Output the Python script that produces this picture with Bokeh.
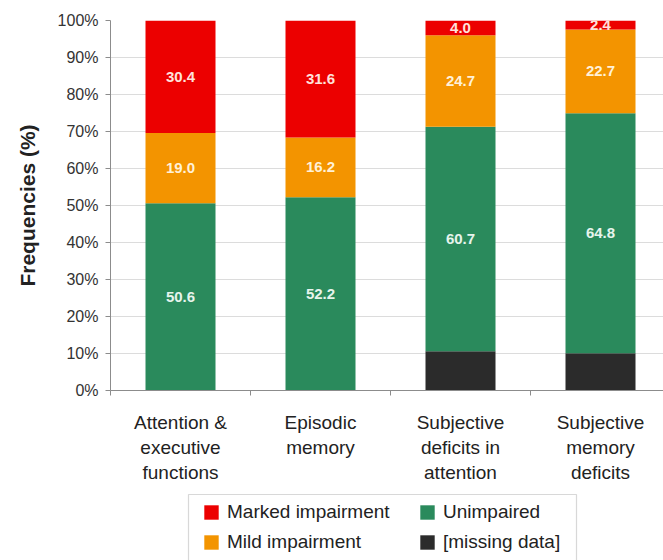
from bokeh.plotting import figure
from bokeh.layouts import column
from bokeh.models import (ColumnDataSource, Range1d, FixedTicker, PrintfTickFormatter,
                          Legend, LegendItem, LabelSet, BoxAnnotation)
from bokeh.core.properties import value
from bokeh.embed import file_html
from bokeh.resources import INLINE

# ---- data ----
categories = ["Attention &\nexecutive\nfunctions", "Episodic\nmemory",
              "Subjective\ndeficits in\nattention", "Subjective\nmemory\ndeficits"]
missing = [0.0, 0.0, 10.6, 10.1]
unimpaired = [50.6, 52.2, 60.7, 64.8]
mild = [19.0, 16.2, 24.7, 22.7]
marked = [30.4, 31.6, 4.0, 2.4]
y_ticks = [0, 10, 20, 30, 40, 50, 60, 70, 80, 90, 100]

series = ["missing", "unimpaired", "mild", "marked"]
colors = ["#2b2b2b", "#2a8a5c", "#f39400", "#ec0000"]
names = ["[missing data]", "Unimpaired", "Mild impairment", "Marked impairment"]

xpos = [i + 0.5 for i in range(len(categories))]
src = ColumnDataSource(dict(x=xpos, missing=missing, unimpaired=unimpaired,
                            mild=mild, marked=marked))

FONT = "Liberation Sans"
W = 663

p = figure(width=W, height=490, output_backend="svg", toolbar_location=None,
           x_range=Range1d(0, 3.95), y_range=Range1d(0, 100),
           min_border_left=110, min_border_right=0, min_border_top=20,
           min_border_bottom=100)
p.outline_line_color = None

renderers = p.vbar_stack(series, x="x", width=0.5, source=src, color=colors,
                         line_color=None)

# segment labels (centered in each segment)
lab_x, lab_y, lab_t, lab_c = [], [], [], []
for i in range(len(categories)):
    base = missing[i]
    for vals, col in ((unimpaired, "#e6f4ec"), (mild, "#fff1d8"), (marked, "#ffe2dc")):
        v = vals[i]
        lab_x.append(xpos[i])
        lab_y.append(base + v / 2)
        lab_t.append(f"{v:.1f}")
        lab_c.append(col)
        base += v
lsrc = ColumnDataSource(dict(x=lab_x, y=lab_y, t=lab_t, c=lab_c))
p.add_layout(LabelSet(x="x", y="y", text="t", source=lsrc, text_color="c",
                      text_font=value(FONT), text_font_size="15px",
                      text_font_style="bold",
                      text_align="center", text_baseline="middle"))

# y axis
p.yaxis.ticker = FixedTicker(ticks=y_ticks)
p.yaxis.formatter = PrintfTickFormatter(format="%d%%")
p.yaxis.axis_label = "Frequencies (%)"
p.yaxis.axis_label_text_font = FONT
p.yaxis.axis_label_text_font_size = "21px"
p.yaxis.axis_label_text_font_style = "bold"
p.yaxis.axis_label_text_color = "#222222"
p.yaxis.axis_label_standoff = 16
p.yaxis.major_label_text_font = FONT
p.yaxis.major_label_text_font_size = "16px"
p.yaxis.major_label_text_color = "#333333"
p.yaxis.major_label_standoff = 7
p.yaxis.axis_line_color = "#8c8c8c"
p.yaxis.major_tick_line_color = "#8c8c8c"
p.yaxis.major_tick_out = 5
p.yaxis.major_tick_in = 0
p.yaxis.minor_tick_line_color = None

# x axis: labels under bars, ticks between categories
p.xaxis.ticker = FixedTicker(ticks=xpos, minor_ticks=[0, 1, 2, 3, 4])
p.xaxis.major_label_overrides = {x: c for x, c in zip(xpos, categories)}
p.xaxis.major_tick_line_color = None
p.xaxis.minor_tick_line_color = "#8c8c8c"
p.xaxis.minor_tick_out = 5
p.xaxis.minor_tick_in = 0
p.xaxis.axis_line_color = "#8c8c8c"
p.xaxis.major_label_text_font = FONT
p.xaxis.major_label_text_font_size = "19px"
p.xaxis.major_label_text_color = "#222222"
p.xaxis.major_label_standoff = 15

p.xgrid.grid_line_color = None
p.ygrid.grid_line_color = "#dcdcdc"
p.ygrid.ticker = FixedTicker(ticks=y_ticks)

# ---- legend strip below the chart ----
lf = figure(width=W, height=70, output_backend="svg", toolbar_location=None,
            x_range=Range1d(0, 553), y_range=Range1d(0, 70),
            x_axis_type=None, y_axis_type=None, min_border=0)
lf.outline_line_color = None
lf.grid.visible = False
nan = float("nan")
leg_r = [lf.vbar(x=[nan], top=[nan], width=1, color=c, line_color=None) for c in colors]

# frame of the legend
lf.add_layout(BoxAnnotation(left=78, right=466, top=66, bottom=-6,
                            fill_color=None, fill_alpha=0,
                            line_color="#7f7f7f", line_width=1.2))

common = dict(orientation="vertical", border_line_color=None,
              background_fill_alpha=0,
              label_text_font=FONT, label_text_font_size="19px",
              label_text_color="#222222", glyph_width=18, glyph_height=18,
              label_height=18, spacing=8, padding=0, margin=0, label_standoff=7)
leg_a = Legend(items=[LegendItem(label=names[3], renderers=[leg_r[3]]),
                      LegendItem(label=names[2], renderers=[leg_r[2]])],
               location=(92, 7), **common)
leg_b = Legend(items=[LegendItem(label=names[1], renderers=[leg_r[1]]),
                      LegendItem(label=names[0], renderers=[leg_r[0]])],
               location=(308, 7), **common)
lf.add_layout(leg_a)
lf.add_layout(leg_b)

open("out.html", "w").write(file_html(column(p, lf), INLINE))
